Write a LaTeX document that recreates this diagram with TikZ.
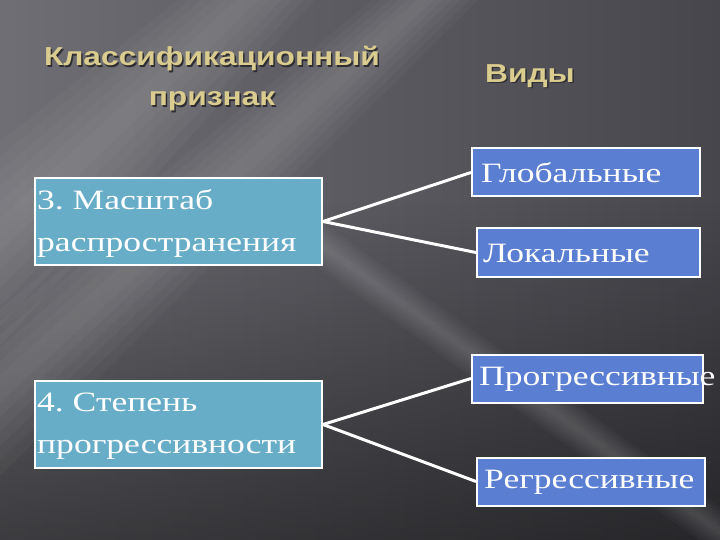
\documentclass[tikz,border=0pt]{standalone}
\usepackage{fontspec}
\usetikzlibrary{fadings}
\setmainfont{Liberation Serif}
\newfontfamily\boxfont[FakeStretch=1.27]{Liberation Serif}
\newfontfamily\titlefont[FakeStretch=1.22]{Liberation Sans}
\frenchspacing
\definecolor{bgleft}{HTML}{6E6E74}
\definecolor{bgright}{HTML}{46464C}
\definecolor{leftfill}{HTML}{68ADC8}
\definecolor{rightfill}{HTML}{5A7ED2}
\definecolor{titlecol}{HTML}{DACB8E}
\definecolor{shadowcol}{HTML}{2E2E32}
\begin{document}
\begin{tikzpicture}[x=1pt,y=-1pt,
  leftbox/.style={draw=white,line width=2pt,fill=leftfill,inner sep=0pt,minimum width=287pt,minimum height=87pt},
  rightbox/.style={draw=white,line width=2pt,fill=rightfill,inner sep=0pt,minimum height=48pt},
  boxtext/.style={text=white,inner sep=0pt,anchor=west,font=\boxfont\fontsize{28}{42}\selectfont,align=left},
  ttl/.style={text=titlecol,font=\titlefont\bfseries\fontsize{26}{40}\selectfont,align=center},
  ttlsh/.style={text=shadowcol,font=\titlefont\bfseries\fontsize{26}{40}\selectfont,align=center},
  conn/.style={draw=white,line width=3pt},
  streak/.style={fill=white,opacity=0.028}]
\useasboundingbox (0,0) rectangle (720,540);
% background
\begin{scope}
\clip (0,0) rectangle (720,540);
\shade[left color=bgleft,right color=bgright] (0,0) rectangle (720,540);
\fill[black,opacity=0.45,path fading=north] (0,200) rectangle (720,540);
\foreach \w in {8,16,...,48}{
  \fill[streak] (480-\w,-50) -- (480+\w,-50) -- (-100+\w,480+\w) -- (-100-\w,480-\w) -- cycle;
}
\foreach \w in {10,20,...,60}{
  \fill[streak] (300-\w,-50) -- (300+\w,-50) -- (-100+\w,330+\w) -- (-100-\w,330-\w) -- cycle;
}
\foreach \w in {4,8,...,24}{
  \fill[streak] (300,230-\w) -- (300,230+\w) -- (760,560+\w) -- (760,560-\w) -- cycle;
}
\end{scope}
% titles
\node[ttlsh] (t1s) at (213.5,80.5) {Классификационный\\признак};
\node[ttl] (t1) at (212,79) {Классификационный\\признак};
\node[ttlsh] (t2s) at (531.5,77.5) {Виды};
\node[ttl] (t2) at (530,76) {Виды};
% left boxes
\node[leftbox] (b1) at (178.5,221.5) {};
\node[boxtext] (b1t) at (37,223) {3. Масштаб\\распространения};
\node[leftbox] (b2) at (178.5,424.5) {};
\node[boxtext] (b2t) at (37,426) {4. Степень\\прогрессивности};
% right boxes
\node[rightbox,minimum width=228pt] (g) at (586,172.5) {};
\node[boxtext] (gt) at (481,173) {Глобальные};
\node[rightbox,minimum width=223pt] (l) at (588.5,252.5) {};
\node[boxtext] (lt) at (483,253) {Локальные};
\node[rightbox,minimum width=231pt] (p) at (587.5,378.5) {};
\node[boxtext] (pt) at (479,379) {Прогрессивные};
\node[rightbox,minimum width=228pt] (r) at (591,481.5) {};
\node[boxtext] (rt) at (484,482) {Регрессивные};
% connectors
\draw[conn] (b1.east) -- (g.west);
\draw[conn] (b1.east) -- (l.west);
\draw[conn] (b2.east) -- (p.west);
\draw[conn] (b2.east) -- (r.west);
\end{tikzpicture}
\end{document}
